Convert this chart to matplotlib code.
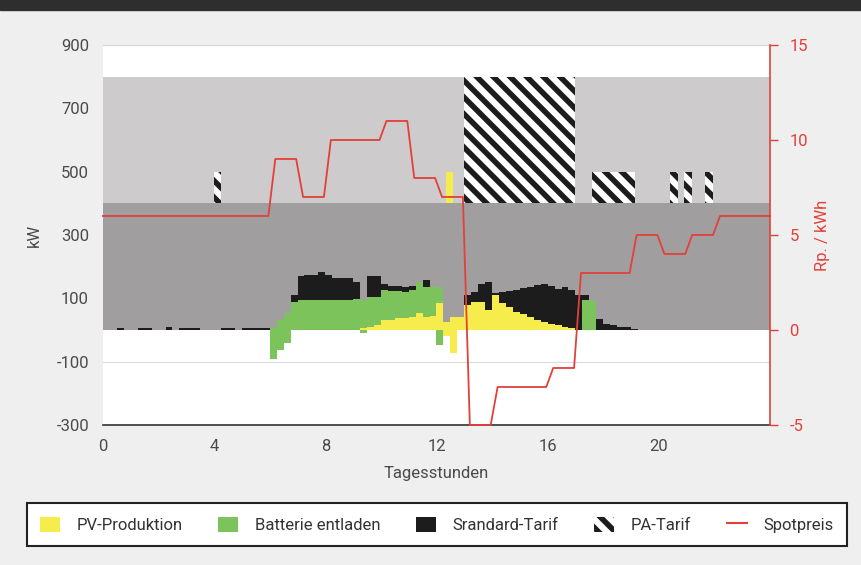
import matplotlib.pyplot as plt
import numpy as np
from matplotlib.patches import Patch, Rectangle
from matplotlib.lines import Line2D

# Leistung je Viertelstunde (kW), 96 Werte ab 0:00, eine Zeile = 2 Stunden
pv = [0, 0, 0, 0, 0, 0, 0, 0,             # 0-2
      0, 0, 0, 0, 0, 0, 0, 0,             # 2-4
      0, 0, 0, 0, 0, 0, 0, 0,             # 4-6
      0, 0, 0, 0, 0, 0, 0, 0,             # 6-8
      0, 0, 0, 0, 0, 5, 10, 16,           # 8-10
      32, 32, 37, 37, 42, 55, 42, 45,     # 10-12
      85, 26, 42, 42, 79, 87, 87, 63,     # 12-14
      110, 85, 72, 58, 50, 42, 30, 24,    # 14-16
      20, 16, 10, 5, 0, 0, 0, 0,          # 16-18
      0, 0, 0, 0, 0, 0, 0, 0,             # 18-20
      0, 0, 0, 0, 0, 0, 0, 0,             # 20-22
      0, 0, 0, 0, 0, 0, 0, 0]             # 22-24

batterie = [0, 0, 0, 0, 0, 0, 0, 0,
            0, 0, 0, 0, 0, 0, 0, 0,
            0, 0, 0, 0, 0, 0, 0, 0,
            5, 32, 55, 88, 95, 95, 95, 95,
            95, 95, 95, 95, 97, 90, 95, 89,
            94, 92, 87, 84, 84, 98, 95, 92,
            52, 0, 0, 0, 0, 0, 0, 0,
            0, 0, 0, 0, 0, 0, 0, 0,
            0, 0, 0, 0, 0, 95, 90, 0,
            0, 0, 0, 0, 0, 0, 0, 0,
            0, 0, 0, 0, 0, 0, 0, 0,
            0, 0, 0, 0, 0, 0, 0, 0]

standard = [0, 0, 5, 0, 0, 5, 5, 0,
            0, 10, 0, 5, 5, 5, 0, 0,
            0, 5, 5, 0, 5, 5, 5, 5,
            0, 0, 0, 22, 76, 79, 79, 89,
            79, 68, 68, 68, 54, 0, 65, 65,
            18, 15, 15, 14, 13, 0, 21, 0,
            0, 0, 0, 0, 31, 34, 58, 90,
            6, 36, 52, 68, 82, 95, 112, 121,
            120, 115, 127, 122, 110, 15, 0, 35,
            18, 16, 10, 8, 4, 0, 0, 0,
            0, 0, 0, 0, 0, 0, 0, 0,
            0, 0, 0, 0, 0, 0, 0, 0]

# negative Werte (Batterie laden / Einspeisung), Index = Viertelstunde
batterie_neg = {24: -92, 25: -63, 26: -40, 37: -8, 48: -47}
pv_neg = {49: -20, 50: -73}

# PA-Tarif Bloecke (Start, Ende in Stunden, Obergrenze kW)
pa_start = [4.0, 13.0, 17.6, 20.4, 20.9, 21.65]
pa_end = [4.25, 17.0, 19.15, 20.7, 21.2, 21.95]
pa_top = [500, 800, 500, 500, 500, 500]
pa_pv_start, pa_pv_end, pa_pv_top = 12.35, 12.6, 500

# Spotpreis je Stunde (Rp./kWh)
spotpreis = [6, 6, 6, 6, 6, 6, 9, 7, 10, 10, 11, 8,
             7, -5, -3, -3, -2, 3, 3, 5, 4, 5, 6, 6]

gelb = '#f6ec4c'
gruen = '#7cc35c'
schwarz = '#1c1c1c'
rot = '#e2403a'
dunkelgrau = '#a19e9f'
hellgrau = '#cdcbcb'

plt.rcParams['font.family'] = ['Roboto', 'DejaVu Sans']
plt.rcParams['hatch.linewidth'] = 4
plt.rcParams['axes.unicode_minus'] = False

t = np.arange(96) * 0.25
pv = np.array(pv)
batterie = np.array(batterie)
standard = np.array(standard)

fig = plt.figure(figsize=(8.61, 5.65), dpi=100, facecolor='#efefef')
fig.add_artist(Rectangle((0, 1 - 10 / 565), 1, 10 / 565, transform=fig.transFigure,
                         color='#2e2e2e', zorder=0))
ax = fig.add_axes([0.1196, 0.2478, 0.7747, 0.6726])
ax.set_facecolor('white')
ax.set_axisbelow(True)

ax.axhspan(0, 400, color=dunkelgrau, lw=0, zorder=1)
ax.axhspan(400, 800, color=hellgrau, lw=0, zorder=1)

for s, e, top in zip(pa_start, pa_end, pa_top):
    ax.bar(s, top - 400, width=e - s, bottom=400, align='edge', facecolor='white',
           edgecolor=schwarz, hatch='\\\\', lw=0, zorder=2)
ax.bar(pa_pv_start, pa_pv_top - 400, width=pa_pv_end - pa_pv_start, bottom=400,
       align='edge', color=gelb, lw=0, zorder=2)

kw = dict(width=0.25, align='edge', lw=0, antialiased=False, zorder=3)
ax.bar(t, pv, color=gelb, **kw)
ax.bar(t, batterie, bottom=pv, color=gruen, **kw)
ax.bar(t, standard, bottom=pv + batterie, color=schwarz, **kw)
ax.bar(t[list(batterie_neg)], list(batterie_neg.values()), color=gruen, **kw)
ax.bar(t[list(pv_neg)], list(pv_neg.values()), color=gelb, **kw)

ax.set_xlim(0, 24)
ax.set_ylim(-300, 900)
ax.set_xticks([0, 4, 8, 12, 16, 20])
ax.set_yticks(np.arange(-300, 901, 200))
ax.grid(axis='y', color='#dcdcdc', lw=0.8)
ax.tick_params(axis='both', length=0, labelsize=12, labelcolor='#4a4a4a', pad=10)
for side in ['left', 'right']:
    ax.spines[side].set_visible(False)
ax.spines['top'].set_color('#d8d8d8')
ax.spines['bottom'].set_color('#333333')
ax.spines['bottom'].set_linewidth(1.2)
ax.set_xlabel('Tagesstunden', fontsize=12, color='#4a4a4a')
ax.xaxis.set_label_coords(0.5, -0.108)
ax.set_ylabel('kW', fontsize=12, color='#4a4a4a')
ax.yaxis.set_label_coords(-0.092, 0.5)

# Spotpreis auf rechter Achse
spot_x, spot_y = [], []
for h, p in enumerate(spotpreis):
    spot_x += [h + 0.2 if h > 0 else 0, h + 0.95 if h < 23 else 24]
    spot_y += [p, p]
ax2 = ax.twinx()
ax2.plot(spot_x, spot_y, color=rot, lw=1.3, clip_on=False, zorder=5)
ax2.set_ylim(-5, 15)
ax2.set_yticks([-5, 0, 5, 10, 15])
ax2.tick_params(axis='y', colors=rot, labelsize=12, length=6, width=1, pad=8)
for side in ['top', 'left', 'bottom']:
    ax2.spines[side].set_visible(False)
ax2.spines['right'].set_color(rot)
ax2.spines['right'].set_linewidth(1.2)
ax2.set_ylabel('Rp. / kWh', fontsize=12, color=rot)
ax2.yaxis.set_label_coords(1.067, 0.5)

handles = [Patch(facecolor=gelb), Patch(facecolor=gruen), Patch(facecolor=schwarz),
           Patch(facecolor='white', edgecolor=schwarz, hatch='\\\\', lw=0),
           Line2D([], [], color=rot, lw=1.5)]
labels = ['PV-Produktion', 'Batterie entladen', 'Srandard-Tarif', 'PA-Tarif', 'Spotpreis']
leg = fig.legend(handles, labels, loc='center', bbox_to_anchor=(0.031, 0.032, 0.953, 0.078),
                 mode='expand', ncol=5, fancybox=False, edgecolor='#222222', framealpha=1,
                 handlelength=1.2, handleheight=1.0, handletextpad=1.0, borderaxespad=0,
                 borderpad=0.8, fontsize=12, labelcolor='#333333')
leg.get_frame().set_linewidth(1.5)

fig.savefig('out.png', dpi=100, facecolor=fig.get_facecolor())
